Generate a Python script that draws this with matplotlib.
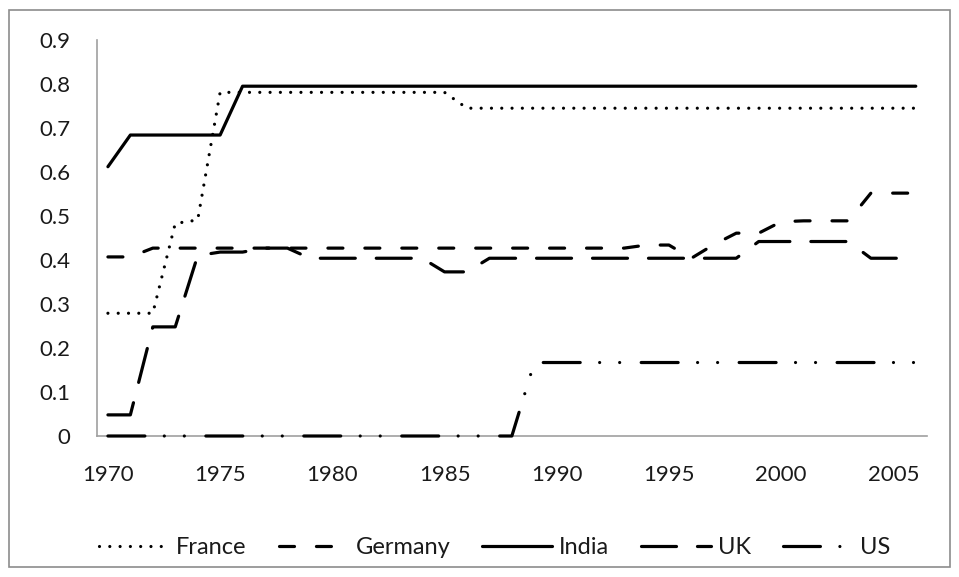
import matplotlib
matplotlib.use("Agg")
import matplotlib.pyplot as plt
from matplotlib.patches import Rectangle

years = list(range(1970, 2007))
tick_years = [1970, 1975, 1980, 1985, 1990, 1995, 2000, 2005]

france = [0.279, 0.279, 0.279, 0.483, 0.491] + [0.781] * 11 + [0.745] * 21
germany = ([0.407, 0.407] + [0.427] * 22 +
           [0.434, 0.434, 0.404, 0.435, 0.461, 0.461, 0.487, 0.489, 0.489, 0.489,
            0.552, 0.552, 0.552])
india = [0.612] + [0.684] * 5 + [0.795] * 31
uk = ([0.048, 0.048, 0.248, 0.248, 0.41, 0.418, 0.418, 0.427, 0.427] + [0.404] * 6 +
      [0.373, 0.373] + [0.404] * 12 + [0.442] * 5 + [0.404] * 3)
us = [0.0] * 19 + [0.167] * 18

series_names = ["France", "Germany", "India", "UK", "US"]

plt.rcParams['font.family'] = ['Lato', 'DejaVu Sans']
plt.rcParams['lines.scale_dashes'] = False

W, H, DPI = 959, 577, 100
fig = plt.figure(figsize=(W / DPI, H / DPI), dpi=DPI)

L, R, T, B = 96.7, 927.0, 40.0, 436.0
ax = fig.add_axes([L / W, 1 - B / H, (R - L) / W, (B - T) / H])

x = list(range(len(years)))
lw = 2.3
styles = {
    "France": (0, (0.01, 7.4)),
    "Germany": (0, (10.8, 15.8)),
    "India": "solid",
    "UK": (0, (25.2, 15.1)),
    "US": (0, (26.6, 14.0, 0.01, 14.4, 0.01, 15.5)),
}
data = {"France": france, "Germany": germany, "India": india, "UK": uk, "US": us}
for name in series_names:
    ax.plot(x, data[name], color="black", lw=lw, linestyle=styles[name],
            dash_capstyle="round", solid_capstyle="round",
            dash_joinstyle="round", solid_joinstyle="round", label=name,
            zorder=3, clip_on=False)

ax.set_xlim(-0.5, len(years) - 0.5)
ax.set_ylim(0, 0.9)
ax.set_yticks([i / 10 for i in range(10)])
ax.set_yticklabels(["0"] + ["%.1f" % (i / 10) for i in range(1, 10)])
ax.set_xticks([years.index(y) for y in tick_years])
ax.set_xticklabels([str(y) for y in tick_years])
ax.tick_params(axis="both", length=0, labelsize=16, colors="#1a1a1a")
ax.tick_params(axis="y", pad=19)
ax.tick_params(axis="x", pad=21)

for s in ["top", "right"]:
    ax.spines[s].set_visible(False)
for s in ["left", "bottom"]:
    ax.spines[s].set_color("#a0a0a0")
    ax.spines[s].set_linewidth(1.2)
    ax.spines[s].set_zorder(1)

fig.legend(loc="center", bbox_to_anchor=(495 / W, 1 - 548 / H), ncol=5,
           frameon=False, fontsize=17, handlelength=2.96, handletextpad=0.3,
           columnspacing=1.35, labelcolor="#1a1a1a")

fig.patches.append(Rectangle((9 / W, 1 - 567 / H), (950 - 9) / W, (567 - 10) / H,
                             transform=fig.transFigure, fill=False,
                             edgecolor="#8c8c8c", lw=1.2))

fig.savefig("out.png", dpi=DPI)
